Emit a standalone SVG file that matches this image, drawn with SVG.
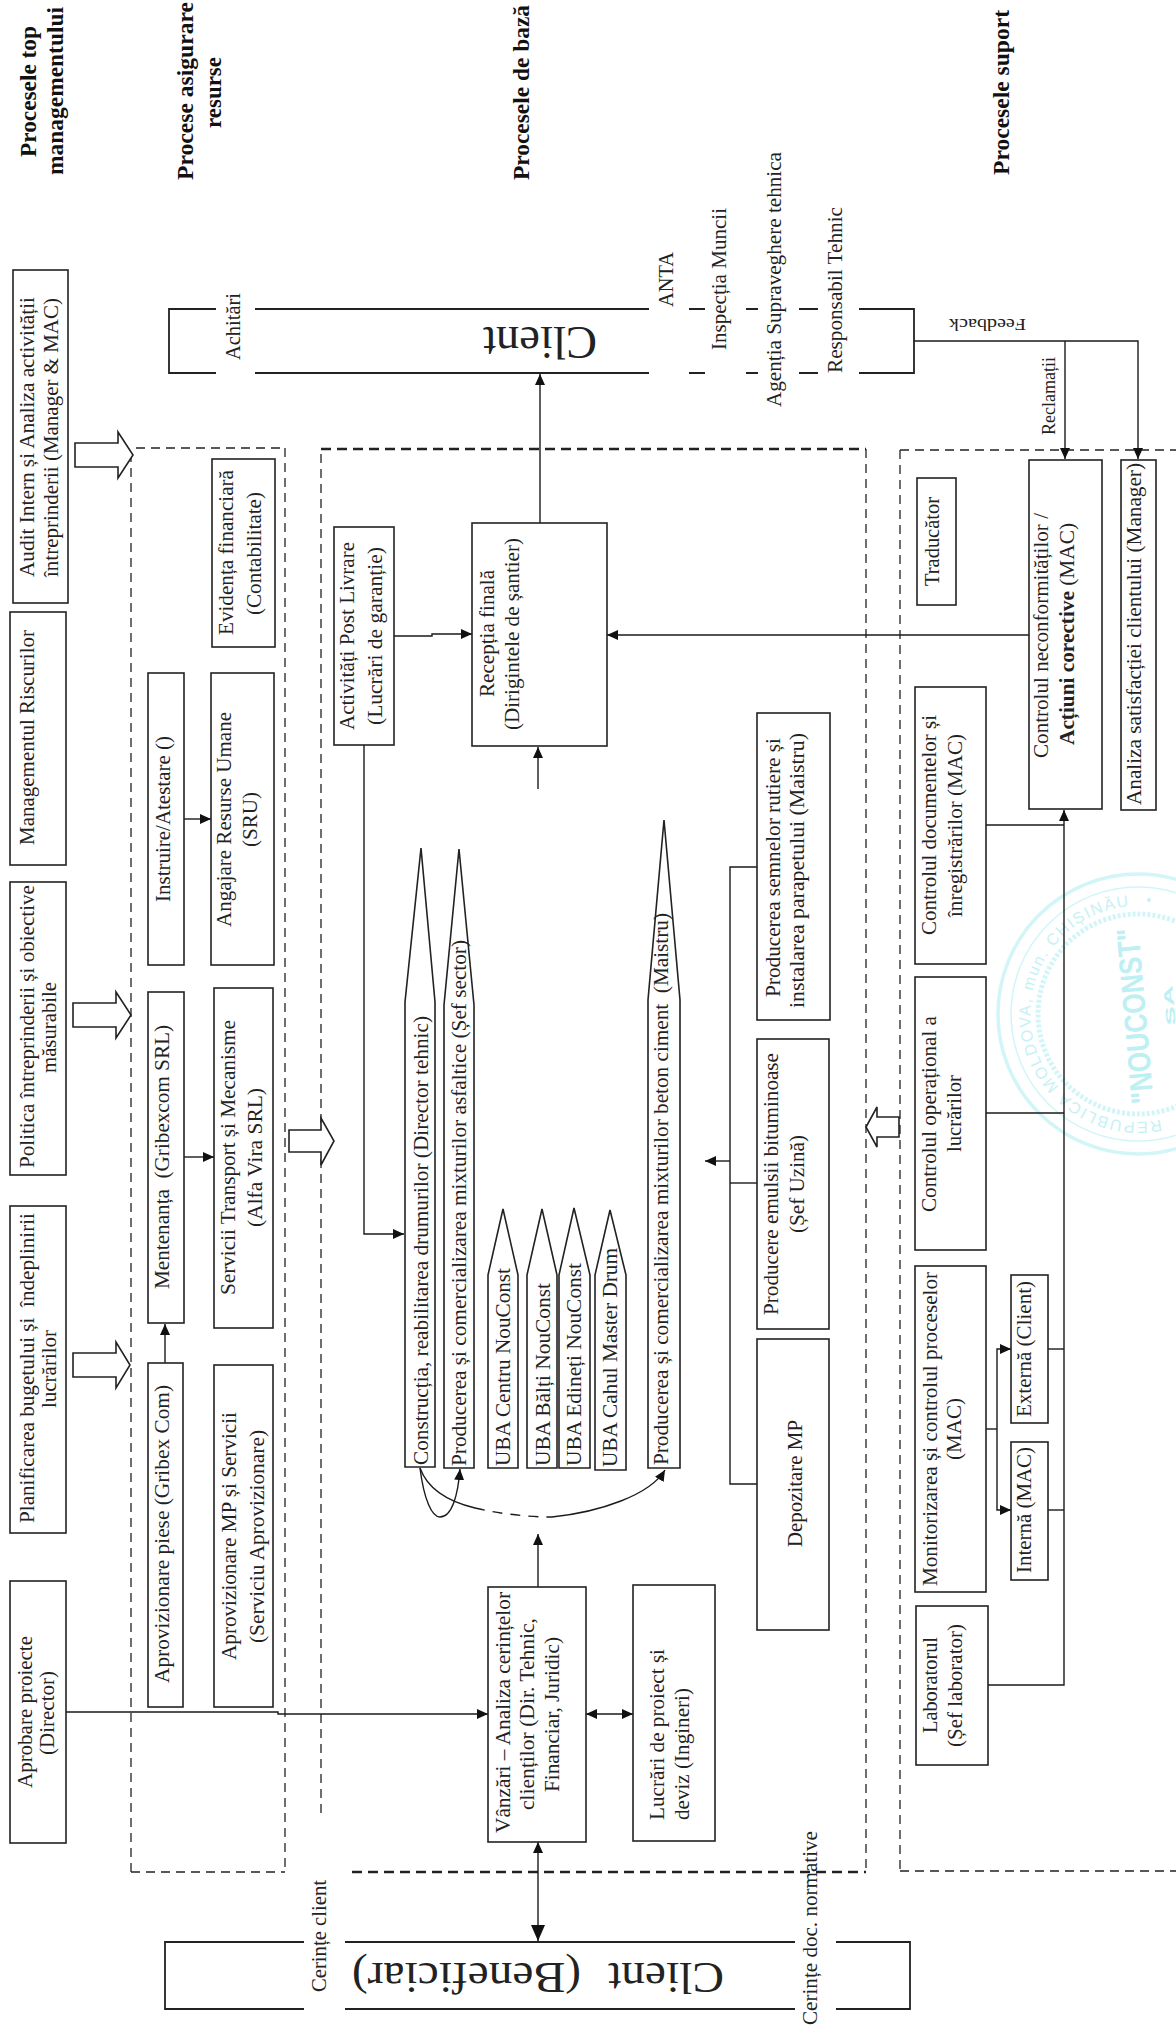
<svg xmlns="http://www.w3.org/2000/svg" width="1176" height="2033" viewBox="0 0 1176 2033">
<style>
text{font-family:"Liberation Serif","Times New Roman",serif;font-size:21px;fill:#222;white-space:pre}
.h{font-weight:bold;font-size:23px;fill:#111}
.big{font-size:47px}
.r,.n{fill:#fff;stroke:#222;stroke-width:1.6}
.c{fill:none;stroke:#1a1a1a;stroke-width:1.4}
.d{fill:none;stroke:#222;stroke-width:1.3;stroke-dasharray:9 6}
.dt{fill:none;stroke:#222;stroke-width:2.6;stroke-dasharray:10 6}
.e{fill:none;stroke:#222;stroke-width:1.8}
.st{fill:none;stroke:#d2f5f8}
.stt{fill:#c6f1f5;font-family:"Liberation Sans",Arial,sans-serif}
</style>
<defs>
<marker id="a" markerUnits="userSpaceOnUse" viewBox="0 0 11 10" refX="11" refY="5" markerWidth="11" markerHeight="10" orient="auto-start-reverse"><path d="M0 0L11 5L0 10z" fill="#111"/></marker>
<marker id="b" markerUnits="userSpaceOnUse" viewBox="0 0 16 14" refX="16" refY="7" markerWidth="16" markerHeight="14" orient="auto-start-reverse"><path d="M0 0L16 7L0 14z" fill="#111"/></marker>
<path id="stampArc" d="M1160.5 1119.6A108 108 0 1 1 1134 906"/>
</defs>
<rect width="1176" height="2033" fill="#fff"/>

<g id="stamp">
<circle class="st" cx="1138" cy="1014" r="140" stroke-width="3.5"/>
<circle class="st" cx="1138" cy="1014" r="127" stroke-width="1.5"/>
<circle class="st" cx="1138" cy="1014" r="100" stroke-width="5" stroke-dasharray="3 2"/>
<circle cx="1149" cy="900" r="2" fill="#c6f1f5"/>
<text class="stt" style="font-size:16px"><textPath href="#stampArc" textLength="352" lengthAdjust="spacing">REPUBLICA MOLDOVA, mun. CHIȘINĂU</textPath></text>
<text class="stt" style="font-size:32px;font-weight:bold;fill:#bdeff3" text-anchor="middle" transform="translate(1146,1015) rotate(-95)" textLength="176" lengthAdjust="spacingAndGlyphs">"NOUCONST"</text>
<text class="stt" style="font-size:13px;font-weight:bold;fill:#bdeff3" text-anchor="middle" transform="translate(1174,1005) rotate(-95)" textLength="40" lengthAdjust="spacingAndGlyphs">SA</text>
</g>

<g id="headings">
<text class="h" transform="translate(36,157) rotate(-90)" textLength="131" lengthAdjust="spacingAndGlyphs">Procesele top</text>
<text class="h" transform="translate(63,175) rotate(-90)" textLength="168" lengthAdjust="spacingAndGlyphs">managementului</text>
<text class="h" transform="translate(193,180) rotate(-90)" textLength="178" lengthAdjust="spacingAndGlyphs">Procese asigurare</text>
<text class="h" transform="translate(221,128) rotate(-90)" textLength="71" lengthAdjust="spacingAndGlyphs">resurse</text>
<text class="h" transform="translate(529,180) rotate(-90)" textLength="175" lengthAdjust="spacingAndGlyphs">Procesele de bază</text>
<text class="h" transform="translate(1009,175) rotate(-90)" textLength="165" lengthAdjust="spacingAndGlyphs">Procesele suport</text>
</g>

<g id="regions">
<path class="d" d="M131 1872V448"/>
<path class="d" d="M285 448V1872"/>
<path class="d" d="M136 448H285" stroke-width="1.6"/>
<path class="d" d="M131 1872H285" stroke-width="1.8"/>
<path class="d" d="M321 1813V449"/>
<path class="d" d="M866 449V1872"/>
<path class="dt" d="M321 449H866"/>
<path class="dt" d="M352 1872H866"/>
<path class="d" d="M900 450V1871"/>
<path class="d" d="M900 450H1176" stroke-width="1.8"/>
<path class="d" d="M900 1871H1176" stroke-width="1.8"/>
</g>

<g id="connectors">
<path class="c" d="M540 523V374" marker-end="url(#a)"/>
<path class="c" d="M914 341H1138V459" marker-end="url(#a)"/>
<path class="c" d="M1065 341V459" marker-end="url(#a)"/>
<path class="c" d="M184 819H211" stroke-width="2" marker-end="url(#a)"/>
<path class="c" d="M184 1157H214" stroke-width="2" marker-end="url(#a)"/>
<path class="c" d="M165 1363V1324" marker-end="url(#a)"/>
<path class="c" d="M394 636H432V634H472" stroke-width="2" marker-end="url(#a)"/>
<path class="c" d="M1029 635H607" stroke-width="2" marker-end="url(#a)"/>
<path class="c" d="M538 789V747" marker-end="url(#a)"/>
<path class="c" d="M364 745V1234H404" marker-end="url(#a)"/>
<path class="c" d="M420 1468C424 1500 432 1517 440 1517C452 1517 458 1495 460 1469" stroke-width="1.8" marker-end="url(#a)"/>
<path class="c" d="M420 1468C428 1490 450 1502 475 1508" stroke-width="1.8"/>
<path class="c" d="M475 1508C495 1513 525 1517 552 1517" stroke-width="1.8" stroke-dasharray="10 8"/>
<path class="c" d="M552 1517C600 1512 650 1495 665 1470" stroke-width="1.8" marker-end="url(#a)"/>
<path class="c" d="M757 867H730V1484H757"/>
<path class="c" d="M757 1183H730"/>
<path class="c" d="M730 1161H705" stroke-width="2" marker-end="url(#a)"/>
<path class="c" d="M586 1714H633" stroke-width="2" marker-start="url(#a)" marker-end="url(#a)"/>
<path class="c" d="M538 1587V1534" marker-end="url(#a)"/>
<path class="c" d="M66 1712H278V1714H488" stroke-width="1.8" marker-end="url(#a)"/>
<path class="c" d="M538 1842V1941" marker-start="url(#a)" marker-end="url(#b)"/>
<path class="c" d="M1064 810V1685H988" marker-start="url(#a)"/>
<path class="c" d="M986 825H1064"/>
<path class="c" d="M986 1113H1064"/>
<path class="c" d="M1048 1349H1064"/>
<path class="c" d="M1048 1510H1064"/>
<path class="c" d="M986 1429H997"/>
<path class="c" d="M1011 1349H997V1510H1011" marker-start="url(#a)" marker-end="url(#a)"/>
</g>

<g id="block-arrows">
<polygon class="r" points="75,443 118,443 118,432 133,455 118,478 118,467 75,467"/>
<polygon class="r" points="73,1003 116,1003 116,992 131,1015 116,1038 116,1027 73,1027"/>
<polygon class="r" points="73,1353 116,1353 116,1342 130,1365 116,1388 116,1377 73,1377"/>
<polygon class="r" points="289,1130 321,1130 321,1118 334,1141 321,1165 321,1152 289,1152"/>
<polygon class="r" points="899,1117 877,1117 877,1107 866,1127 877,1147 877,1137 899,1137"/>
</g>

<g id="client-top">
<path class="e" d="M216 309H169V373H216M255 309H649M255 373H649M689 309H705M689 373H705M746 309H758M746 373H758M799 309H818M799 373H818M859 309H914V373H859" stroke-width="2"/>
<text class="big" transform="translate(597,327) rotate(180)" textLength="114" lengthAdjust="spacingAndGlyphs">Client</text>
<text transform="translate(240,360) rotate(-90)" textLength="67" lengthAdjust="spacingAndGlyphs">Achitări</text>
<text transform="translate(673,307) rotate(-90)" textLength="55" lengthAdjust="spacingAndGlyphs">ANTA</text>
<text transform="translate(726,350) rotate(-90)" textLength="142" lengthAdjust="spacingAndGlyphs">Inspecția Muncii</text>
<text transform="translate(781,407) rotate(-90)" textLength="255" lengthAdjust="spacingAndGlyphs">Agenția Supraveghere tehnica</text>
<text transform="translate(842,373) rotate(-90)" textLength="166" lengthAdjust="spacingAndGlyphs">Responsabil Tehnic</text>
<text style="font-size:16px" transform="translate(1026,319) rotate(180)" textLength="77" lengthAdjust="spacingAndGlyphs">Feedback</text>
<text style="font-size:18px" transform="translate(1055,435) rotate(-90)" textLength="78" lengthAdjust="spacingAndGlyphs">Reclamații</text>
</g>

<g id="audit"><rect class="n" x="13" y="270" width="55" height="333"/>
<text transform="translate(34,577) rotate(-90)" textLength="280" lengthAdjust="spacingAndGlyphs">Audit Intern și Analiza activității</text>
<text transform="translate(58,577) rotate(-90)" textLength="279" lengthAdjust="spacingAndGlyphs">întreprinderii (Manager &amp; MAC)</text></g>
<g id="riscuri"><rect class="n" x="10" y="612" width="56" height="253"/>
<text transform="translate(34,845) rotate(-90)" textLength="215" lengthAdjust="spacingAndGlyphs">Managementul Riscurilor</text></g>
<g id="politica"><rect class="n" x="10" y="882" width="56" height="293"/>
<text transform="translate(34,1168) rotate(-90)" textLength="283" lengthAdjust="spacingAndGlyphs">Politica întreprinderii și obiective</text>
<text transform="translate(56,1073) rotate(-90)" textLength="91" lengthAdjust="spacingAndGlyphs">măsurabile</text></g>
<g id="planificare"><rect class="n" x="10" y="1206" width="56" height="327"/>
<text transform="translate(34,1523) rotate(-90)" textLength="310" lengthAdjust="spacingAndGlyphs">Planificarea bugetului și  îndeplinirii</text>
<text transform="translate(56,1408) rotate(-90)" textLength="78" lengthAdjust="spacingAndGlyphs">lucrărilor</text></g>
<g id="aprobare"><rect class="n" x="10" y="1581" width="56" height="262"/>
<text transform="translate(32,1788) rotate(-90)" textLength="152" lengthAdjust="spacingAndGlyphs">Aprobare proiecte</text>
<text transform="translate(54,1755) rotate(-90)" textLength="84" lengthAdjust="spacingAndGlyphs">(Director)</text></g>

<g id="evidenta"><rect class="n" x="212" y="459" width="63" height="188"/>
<text transform="translate(233,635) rotate(-90)" textLength="165" lengthAdjust="spacingAndGlyphs">Evidența financiară</text>
<text transform="translate(261,615) rotate(-90)" textLength="123" lengthAdjust="spacingAndGlyphs">(Contabilitate)</text></g>
<g id="instruire"><rect class="n" x="148" y="673" width="36" height="292"/>
<text transform="translate(170,902) rotate(-90)" textLength="166" lengthAdjust="spacingAndGlyphs">Instruire/Atestare ()</text></g>
<g id="angajare"><rect class="n" x="211" y="673" width="63" height="292"/>
<text transform="translate(231,927) rotate(-90)" textLength="215" lengthAdjust="spacingAndGlyphs">Angajare Resurse Umane</text>
<text transform="translate(257,847) rotate(-90)" textLength="55" lengthAdjust="spacingAndGlyphs">(SRU)</text></g>
<g id="mentenanta"><rect class="n" x="148" y="992" width="36" height="331"/>
<text transform="translate(169,1289) rotate(-90)" textLength="264" lengthAdjust="spacingAndGlyphs">Mentenanța  (Gribexcom SRL)</text></g>
<g id="servicii"><rect class="n" x="214" y="988" width="59" height="340"/>
<text transform="translate(235,1295) rotate(-90)" textLength="275" lengthAdjust="spacingAndGlyphs">Servicii Transport și Mecanisme</text>
<text transform="translate(262,1227) rotate(-90)" textLength="139" lengthAdjust="spacingAndGlyphs">(Alfa Vira SRL)</text></g>
<g id="aprov-piese"><rect class="n" x="148" y="1363" width="35" height="344"/>
<text transform="translate(169,1683) rotate(-90)" textLength="298" lengthAdjust="spacingAndGlyphs">Aprovizionare piese (Gribex Com)</text></g>
<g id="aprov-mp"><rect class="n" x="214" y="1365" width="59" height="342"/>
<text transform="translate(236,1660) rotate(-90)" textLength="248" lengthAdjust="spacingAndGlyphs">Aprovizionare MP și Servicii</text>
<text transform="translate(264,1643) rotate(-90)" textLength="213" lengthAdjust="spacingAndGlyphs">(Serviciu Aprovizionare)</text></g>

<g id="post-livrare"><rect class="n" x="334" y="527" width="60" height="218"/>
<text transform="translate(354,730) rotate(-90)" textLength="188" lengthAdjust="spacingAndGlyphs">Activități Post Livrare</text>
<text transform="translate(382,725) rotate(-90)" textLength="178" lengthAdjust="spacingAndGlyphs">(Lucrări de garanție)</text></g>
<g id="receptia"><rect class="n" x="472" y="523" width="135" height="223"/>
<text transform="translate(494,697) rotate(-90)" textLength="127" lengthAdjust="spacingAndGlyphs">Recepția finală</text>
<text transform="translate(519,730) rotate(-90)" textLength="192" lengthAdjust="spacingAndGlyphs">(Dirigintele de șantier)</text></g>

<g id="constructia"><polygon class="n" points="405,1467 435,1467 435,1002 421,848 405,1002"/>
<text transform="translate(428,1465) rotate(-90)" textLength="449" lengthAdjust="spacingAndGlyphs">Construcția, reabilitarea drumurilor (Director tehnic)</text></g>
<g id="asfaltice"><polygon class="n" points="444,1468 474,1468 474,1005 459,849 444,1005"/>
<text transform="translate(466,1466) rotate(-90)" textLength="526" lengthAdjust="spacingAndGlyphs">Producerea și comercializarea mixturilor asfaltice (Șef sector)</text></g>
<g id="uba-centru"><polygon class="n" points="488,1468 518,1468 518,1275 503,1209 488,1275"/>
<text transform="translate(510,1466) rotate(-90)" textLength="198" lengthAdjust="spacingAndGlyphs">UBA Centru NouConst</text></g>
<g id="uba-balti"><polygon class="n" points="527,1468 557,1468 557,1275 542,1209 527,1275"/>
<text transform="translate(550,1466) rotate(-90)" textLength="183" lengthAdjust="spacingAndGlyphs">UBA Bălți NouConst</text></g>
<g id="uba-edineti"><polygon class="n" points="559,1468 590,1468 590,1275 574,1208 559,1275"/>
<text transform="translate(581,1466) rotate(-90)" textLength="203" lengthAdjust="spacingAndGlyphs">UBA Edineți NouConst</text></g>
<g id="uba-cahul"><polygon class="n" points="595,1470 626,1470 626,1275 610,1210 595,1275"/>
<text transform="translate(617,1467) rotate(-90)" textLength="219" lengthAdjust="spacingAndGlyphs">UBA Cahul Master Drum</text></g>
<g id="beton"><polygon class="n" points="648,1468 680,1468 680,1000 664,820 648,1000"/>
<text transform="translate(668,1465) rotate(-90)" textLength="552" lengthAdjust="spacingAndGlyphs">Producerea și comercializarea mixturilor beton ciment  (Maistru)</text></g>

<g id="semne"><rect class="n" x="757" y="713" width="73" height="307"/>
<text transform="translate(780,997) rotate(-90)" textLength="259" lengthAdjust="spacingAndGlyphs">Producerea semnelor rutiere și</text>
<text transform="translate(804,1008) rotate(-90)" textLength="275" lengthAdjust="spacingAndGlyphs">instalarea parapetului (Maistru)</text></g>
<g id="emulsii"><rect class="n" x="757" y="1039" width="72" height="290"/>
<text transform="translate(778,1315) rotate(-90)" textLength="262" lengthAdjust="spacingAndGlyphs">Producere emulsii bituminoase</text>
<text transform="translate(804,1233) rotate(-90)" textLength="98" lengthAdjust="spacingAndGlyphs">(Șef Uzină)</text></g>
<g id="depozitare"><rect class="n" x="757" y="1339" width="72" height="291"/>
<text transform="translate(802,1547) rotate(-90)" textLength="127" lengthAdjust="spacingAndGlyphs">Depozitare MP</text></g>
<g id="vanzari"><rect class="n" x="488" y="1587" width="98" height="255"/>
<text transform="translate(510,1833) rotate(-90)" textLength="241" lengthAdjust="spacingAndGlyphs">Vânzări – Analiza cerințelor</text>
<text transform="translate(534,1810) rotate(-90)" textLength="192" lengthAdjust="spacingAndGlyphs">clienților (Dir. Tehnic,</text>
<text transform="translate(559,1792) rotate(-90)" textLength="155" lengthAdjust="spacingAndGlyphs">Financiar, Juridic)</text></g>
<g id="lucrari-proiect"><rect class="n" x="633" y="1585" width="82" height="256"/>
<text transform="translate(664,1820) rotate(-90)" textLength="171" lengthAdjust="spacingAndGlyphs">Lucrări de proiect și</text>
<text transform="translate(689,1820) rotate(-90)" textLength="132" lengthAdjust="spacingAndGlyphs">deviz (Ingineri)</text></g>

<g id="client-beneficiar">
<path class="e" d="M304 1942H165V2009H304M345 1942H795M345 2009H795M836 1942H910V2009H836" stroke-width="2"/>
<text class="big" style="font-size:45px" transform="translate(724,1963) rotate(180)" textLength="116" lengthAdjust="spacingAndGlyphs">Client</text>
<text class="big" style="font-size:45px" transform="translate(581,1963) rotate(180)" textLength="229" lengthAdjust="spacingAndGlyphs">(Beneficiar)</text>
<text transform="translate(326,1992) rotate(-90)" textLength="112" lengthAdjust="spacingAndGlyphs">Cerințe client</text>
<text transform="translate(817,2025) rotate(-90)" textLength="194" lengthAdjust="spacingAndGlyphs">Cerințe doc. normative</text>
</g>

<g id="traducator"><rect class="n" x="917" y="478" width="39" height="127"/>
<text transform="translate(939,586) rotate(-90)" textLength="89" lengthAdjust="spacingAndGlyphs">Traducător</text></g>
<g id="neconformitati"><rect class="n" x="1029" y="460" width="73" height="349"/>
<text transform="translate(1048,758) rotate(-90)" textLength="245" lengthAdjust="spacingAndGlyphs">Controlul neconformităților /</text>
<text transform="translate(1074,745) rotate(-90)" textLength="222" lengthAdjust="spacingAndGlyphs"><tspan font-weight="bold">Acțiuni corective</tspan> (MAC)</text></g>
<g id="satisfactie"><rect class="n" x="1121" y="460" width="35" height="350"/>
<text transform="translate(1141,805) rotate(-90)" textLength="342" lengthAdjust="spacingAndGlyphs">Analiza satisfacției clientului (Manager)</text></g>
<g id="documente"><rect class="n" x="915" y="687" width="71" height="277"/>
<text transform="translate(936,935) rotate(-90)" textLength="220" lengthAdjust="spacingAndGlyphs">Controlul documentelor și</text>
<text transform="translate(962,917) rotate(-90)" textLength="183" lengthAdjust="spacingAndGlyphs">înregistrărilor (MAC)</text></g>
<g id="operational"><rect class="n" x="915" y="977" width="71" height="273"/>
<text transform="translate(936,1212) rotate(-90)" textLength="196" lengthAdjust="spacingAndGlyphs">Controlul operațional a</text>
<text transform="translate(961,1152) rotate(-90)" textLength="77" lengthAdjust="spacingAndGlyphs">lucrărilor</text></g>
<g id="monitorizare"><rect class="n" x="915" y="1266" width="71" height="326"/>
<text transform="translate(937,1586) rotate(-90)" textLength="314" lengthAdjust="spacingAndGlyphs">Monitorizarea și controlul proceselor</text>
<text transform="translate(961,1460) rotate(-90)" textLength="62" lengthAdjust="spacingAndGlyphs">(MAC)</text></g>
<g id="externa"><rect class="n" x="1011" y="1275" width="37" height="148"/>
<text transform="translate(1031,1417) rotate(-90)" textLength="136" lengthAdjust="spacingAndGlyphs">Externă (Client)</text></g>
<g id="interna"><rect class="n" x="1011" y="1442" width="37" height="138"/>
<text transform="translate(1031,1573) rotate(-90)" textLength="126" lengthAdjust="spacingAndGlyphs">Internă (MAC)</text></g>
<g id="laborator"><rect class="n" x="916" y="1606" width="72" height="159"/>
<text transform="translate(937,1733) rotate(-90)" textLength="96" lengthAdjust="spacingAndGlyphs">Laboratorul</text>
<text transform="translate(962,1747) rotate(-90)" textLength="123" lengthAdjust="spacingAndGlyphs">(Șef laborator)</text></g>
</svg>
